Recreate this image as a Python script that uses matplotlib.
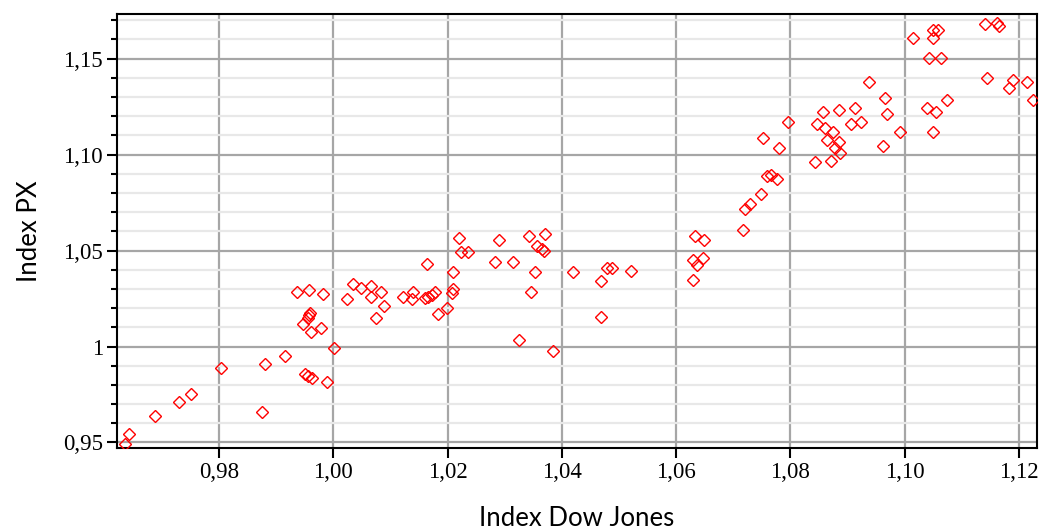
import matplotlib
matplotlib.use('Agg')
import matplotlib.pyplot as plt
from matplotlib.ticker import MultipleLocator, FuncFormatter

# Index Dow Jones (x) vs Index PX (y)
DOW = [0.9636, 0.9643, 0.9688, 0.9730, 0.9751, 0.9803, 0.9876, 0.9881, 0.9916,
       0.9937, 0.9958, 0.9982, 0.9959, 0.9958, 0.9955, 0.9947, 0.9961, 0.9979,
       0.9951, 0.9956, 0.9962, 0.9989, 1.0001, 1.0024, 1.0034, 1.0048, 1.0066,
       1.0066, 1.0083, 1.0088, 1.0074, 1.0122, 1.0139, 1.0137, 1.0164, 1.0161,
       1.0166, 1.0172, 1.0178, 1.0184, 1.0199, 1.0209, 1.0210, 1.0207, 1.0220,
       1.0223, 1.0236, 1.0290, 1.0343, 1.0371, 1.0356, 1.0365, 1.0369, 1.0283,
       1.0314, 1.0353, 1.0346, 1.0325, 1.0385, 1.0419, 1.0469, 1.0479, 1.0487,
       1.0521, 1.0469,
       1.0630, 1.0629, 1.0637, 1.0647, 1.0633, 1.0648, 1.0717, 1.0721, 1.0730,
       1.0749, 1.0759, 1.0766, 1.0777, 1.0780, 1.0752, 1.0795, 1.0843, 1.0871,
       1.0846, 1.0861, 1.0875, 1.0864, 1.0878, 1.0885, 1.0887, 1.0857, 1.0885,
       1.0913, 1.0906, 1.0923, 1.0938, 1.0966, 1.0969, 1.0962, 1.0991, 1.1039,
       1.1054, 1.1074, 1.1050, 1.1014, 1.1050, 1.1058, 1.1049, 1.1043, 1.1064,
       1.1141, 1.1161, 1.1165, 1.1144, 1.1189, 1.1183, 1.1214, 1.1225]
PX = [0.9492, 0.9544, 0.9638, 0.9711, 0.9753, 0.9888, 0.9659, 0.9909, 0.9951,
      1.0284, 1.0294, 1.0274, 1.0175, 1.0164, 1.0151, 1.0117, 1.0076, 1.0096,
      0.9857, 0.9844, 0.9834, 0.9813, 0.9991, 1.0247, 1.0326, 1.0305, 1.0317,
      1.0259, 1.0284, 1.0209, 1.0147, 1.0259, 1.0284, 1.0246, 1.0428, 1.0254,
      1.0259, 1.0268, 1.0282, 1.0168, 1.0201, 1.0388, 1.0297, 1.0277, 1.0564,
      1.0491, 1.0491, 1.0555, 1.0576, 1.0586, 1.0524, 1.0506, 1.0498, 1.0439,
      1.0439, 1.0387, 1.0286, 1.0034, 0.9978, 1.0387, 1.0343, 1.0407, 1.0407,
      1.0395, 1.0155,
      1.0346, 1.0451, 1.0425, 1.0463, 1.0576, 1.0555, 1.0607, 1.0716, 1.0741,
      1.0795, 1.0888, 1.0893, 1.0873, 1.1033, 1.1085, 1.1170, 1.0961, 1.0969,
      1.1159, 1.1137, 1.1118, 1.1076, 1.1033, 1.1067, 1.1007, 1.1220, 1.1232,
      1.1244, 1.1158, 1.1171, 1.1376, 1.1293, 1.1210, 1.1045, 1.1118, 1.1243,
      1.1223, 1.1284, 1.1116, 1.1606, 1.1649, 1.1649, 1.1606, 1.1502, 1.1502,
      1.1680, 1.1687, 1.1670, 1.1397, 1.1388, 1.1345, 1.1380, 1.1284]

X_TICKS = [0.98, 1.00, 1.02, 1.04, 1.06, 1.08, 1.10, 1.12]
Y_TICKS = [0.95, 1.00, 1.05, 1.10, 1.15]


def comma2(v, pos=None):
    return ('%.2f' % v).replace('.', ',')


def comma_y(v, pos=None):
    if abs(v - 1.0) < 1e-9:
        return '1'
    return comma2(v)


fig = plt.figure(figsize=(10.41, 5.30), dpi=100)
ax = fig.add_axes([117/1041, 82/530, 920/1041, 434/530])

ax.plot(DOW, PX, linestyle='none', marker='D', markersize=5.8,
        markerfacecolor='none', markeredgecolor='#ff0000', markeredgewidth=1.0,
        zorder=3)

ax.set_xlim(0.96215, 1.12315)
ax.set_ylim(0.94712, 1.17323)

ax.set_xticks(X_TICKS)
ax.set_yticks(Y_TICKS)
ax.yaxis.set_minor_locator(MultipleLocator(0.01))
ax.xaxis.set_major_formatter(FuncFormatter(comma2))
ax.yaxis.set_major_formatter(FuncFormatter(comma_y))

ax.set_axisbelow(True)
ax.grid(True, which='major', color='#a6a6a6', linewidth=1.6)
ax.grid(True, which='minor', axis='y', color='#e8e8e8', linewidth=1.6)

ax.tick_params(axis='both', which='major', direction='out', length=7,
               width=1.5, color='black', labelsize=16.5, pad=3)
ax.tick_params(axis='y', which='minor', direction='out', length=4,
               width=1.5, color='black')
for lab in ax.get_xticklabels() + ax.get_yticklabels():
    lab.set_family('Liberation Serif')

for s in ax.spines.values():
    s.set_color('black')
    s.set_linewidth(1.5)

ax.set_xlabel('Index Dow Jones', family='Lato', fontsize=18.5, labelpad=17)
ax.set_ylabel('Index PX', family='Lato', fontsize=18.5, labelpad=15)

fig.savefig('out.png', dpi=100)
